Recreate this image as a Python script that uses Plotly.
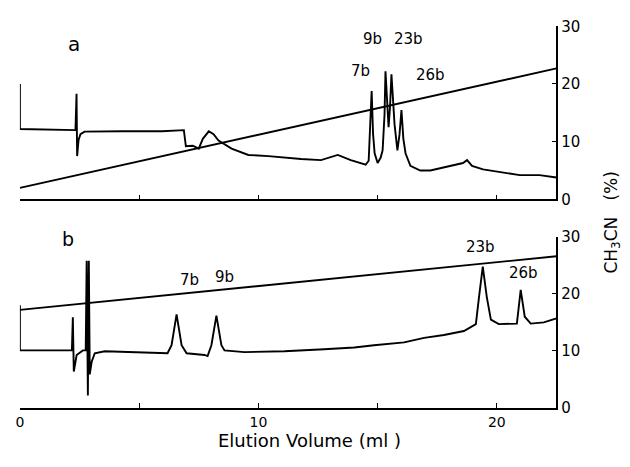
import plotly.graph_objects as go

# ---- Panel a: chromatogram (detector signal, arbitrary units on % scale) ----
vol_a = [0.0, 0.0, 2.33, 2.375, 2.40, 2.46, 2.54, 2.71, 4.29, 5.96, 6.875, 6.96, 7.25, 7.5,
         7.67, 7.92, 8.12, 8.33, 8.875, 9.58, 10.42, 11.08, 11.79, 12.625, 13.33, 13.875,
         14.5, 14.625, 14.70, 14.75, 14.81, 14.875, 15.0, 15.125, 15.21, 15.29, 15.33, 15.375,
         15.46, 15.52, 15.58, 15.71, 15.83, 15.92, 16.0, 16.08, 16.17, 16.375, 16.79, 17.21,
         17.75, 18.04, 18.58, 18.75, 18.96, 19.42, 20.125, 20.67, 20.96, 21.79, 22.5]
sig_a = [20.0, 12.2, 12.0, 18.3, 7.5, 10.3, 11.3, 11.75, 11.8, 11.8, 12.0, 9.2, 9.3, 8.8,
         10.5, 11.8, 11.3, 10.2, 8.8, 7.7, 7.5, 7.2, 7.0, 6.8, 7.7, 6.8,
         6.0, 6.7, 13.0, 18.8, 11.3, 8.0, 6.3, 7.2, 8.5, 14.7, 22.2, 18.3,
         12.5, 16.0, 21.7, 13.0, 8.5, 11.3, 15.5, 10.5, 8.0, 5.8, 5.0, 5.0,
         5.5, 5.8, 6.3, 6.8, 5.8, 5.2, 4.7, 4.3, 4.2, 4.2, 3.8]
# gradient a
grad_vol_a = [0.0, 22.5]
grad_pct_a = [2.0, 22.7]

# ---- Panel b ----
vol_b = [0.0, 0.0, 2.18, 2.22, 2.26, 2.38, 2.64, 2.76, 2.80, 2.85, 2.89, 2.93, 3.01, 3.14,
         3.56, 5.65, 6.19, 6.36, 6.57, 6.78, 6.99, 7.74, 7.87, 8.03, 8.24, 8.45, 8.58, 9.41,
         11.09, 12.76, 14.02, 14.85, 16.11, 16.95, 17.78, 18.62, 19.12, 19.25, 19.41, 19.58,
         19.75, 20.08, 20.71, 20.84, 21.0, 21.17, 21.42, 21.97, 22.5]
sig_b = [18.0, 10.1, 10.1, 15.9, 6.4, 9.3, 10.1, 10.1, 25.8, 2.2, 25.8, 5.9, 8.1, 9.6,
         9.95, 9.6, 9.6, 11.0, 16.4, 11.0, 9.6, 9.3, 9.1, 11.0, 16.2, 11.0, 10.1, 9.8,
         9.95, 10.3, 10.6, 11.0, 11.5, 12.3, 12.8, 13.5, 14.7, 19.4, 24.8, 19.4,
         15.5, 14.7, 14.7, 14.8, 20.7, 16.0, 14.8, 15.0, 15.7]
grad_vol_b = [0.0, 22.5]
grad_pct_b = [17.2, 26.6]

# ---- labels ----
peak_labels_a = ["7b", "9b", "23b", "26b"]
peak_pos_a = [(14.3, 22.2), (14.8, 27.8), (16.3, 27.8), (17.2, 21.6)]
peak_labels_b = ["7b", "9b", "23b", "26b"]
peak_pos_b = [(7.1, 22.4), (8.6, 23.0), (19.3, 28.2), (21.1, 23.6)]
x_tick_vals_a = [5, 10, 15, 20]
y_tick_vals = [0, 10, 20, 30]

W, H = 630, 467
line = dict(color="black", width=1.9)
fig = go.Figure()
fig.add_trace(go.Scatter(x=vol_a, y=sig_a, mode="lines", line=line, xaxis="x", yaxis="y"))
fig.add_trace(go.Scatter(x=grad_vol_a, y=grad_pct_a, mode="lines", line=line, xaxis="x", yaxis="y"))
fig.add_trace(go.Scatter(x=vol_b, y=sig_b, mode="lines", line=line, xaxis="x2", yaxis="y2"))
fig.add_trace(go.Scatter(x=grad_vol_b, y=grad_pct_b, mode="lines", line=line, xaxis="x2", yaxis="y2"))

font = dict(family="DejaVu Sans, Arial, sans-serif", color="black")
xdom = [16 / W, 556 / W]
common_x = dict(range=[0, 22.5], showline=True, linecolor="black", linewidth=1.5,
                ticks="inside", ticklen=5, tickcolor="black", showgrid=False, zeroline=False,
                domain=xdom, tickfont=dict(size=14, **font))
common_y = dict(range=[0, 30], side="right", showline=True, linecolor="black", linewidth=1.5,
                ticks="inside", ticklen=5, tickcolor="black", showgrid=False, zeroline=False,
                tickvals=y_tick_vals, tickfont=dict(size=15, **font))

fig.update_layout(
    width=W, height=H, margin=dict(l=0, r=0, t=0, b=0),
    paper_bgcolor="white", plot_bgcolor="white", showlegend=False,
    xaxis=dict(**common_x, anchor="y", tickvals=x_tick_vals_a, showticklabels=False),
    yaxis=dict(**common_y, anchor="x", domain=[(H - 198) / H, (H - 18) / H]),
    xaxis2=dict(**common_x, anchor="y2", tick0=0, dtick=10,
                minor=dict(dtick=5, ticks="inside", ticklen=5, tickcolor="black", showgrid=False)),
    yaxis2=dict(**common_y, anchor="x2", domain=[(H - 415) / H, (H - 237) / H]),
)

ann = []
cm = dict(showarrow=False, xanchor="center", yanchor="middle")
ann.append(dict(text="a", x=70 / W, y=(H - 36) / H, xref="paper", yref="paper",
                font=dict(size=20, **font), **cm))
ann.append(dict(text="b", x=64 / W, y=(H - 239) / H, xref="paper", yref="paper",
                font=dict(size=19, **font), **cm))
for t, (px, py) in zip(peak_labels_a, peak_pos_a):
    ann.append(dict(text=t, x=px, y=py, xref="x", yref="y", font=dict(size=15, **font), **cm))
for t, (px, py) in zip(peak_labels_b, peak_pos_b):
    ann.append(dict(text=t, x=px, y=py, xref="x2", yref="y2", font=dict(size=15, **font), **cm))
ann.append(dict(text="Elution Volume (ml )", x=307 / W, y=(H - 449) / H, xref="paper",
                yref="paper", font=dict(size=18, **font), **cm))
ann.append(dict(text="CH<sub>3</sub>CN   (%)", x=612 / W, y=(H - 222) / H, xref="paper",
                yref="paper", textangle=-90, font=dict(size=17, **font), **cm))
fig.update_layout(annotations=ann)

fig.write_html("out.html")
